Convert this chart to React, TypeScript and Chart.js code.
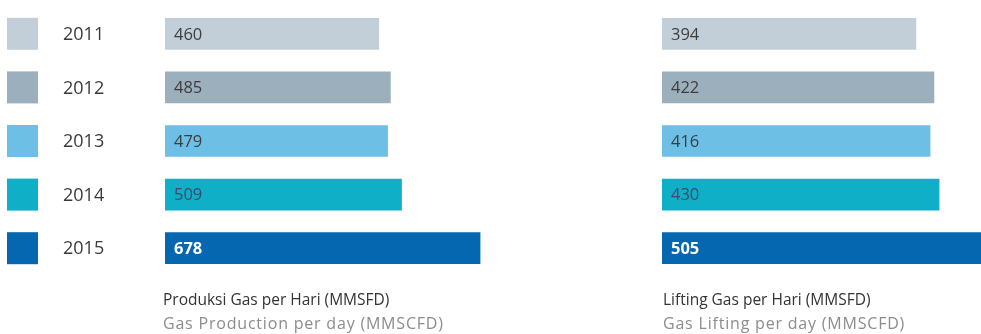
import React, { useEffect, useRef } from "react";
import { Chart, registerables } from "chart.js";

Chart.register(...registerables);

const years = ["2011", "2012", "2013", "2014", "2015"];
const productionValues = [460, 485, 479, 509, 678];
const liftingValues = [394, 422, 416, 430, 505];
const barColors = ["#c3cfd8", "#9cafbc", "#6dbfe6", "#10afc8", "#0467b0"];
const valueLabelColors = ["#3d3d3d", "#3d3d3d", "#3d3d3d", "#3d4a66", "#ffffff"];
const productionTitle = ["Produksi Gas per Hari (MMSFD)", "Gas Production per day (MMSCFD)"];
const liftingTitle = ["Lifting Gas per Hari (MMSFD)", "Gas Lifting per day (MMSCFD)"];

const FONT = "'Open Sans', 'Noto Sans', sans-serif";

type PanelProps = {
  values: number[];
  left: number;
  width: number;
  padLeft: number;
  max: number;
  showLegend: boolean;
  title: string[];
  titleLeft: number;
};

function BarPanel({ values, left, width, padLeft, max, showLegend, title, titleLeft }: PanelProps) {
  const ref = useRef<HTMLCanvasElement | null>(null);

  useEffect(() => {
    if (!ref.current) return;
    const valueLabels = {
      id: "valueLabels",
      afterDatasetsDraw(chart: any) {
        const ctx = chart.ctx;
        const meta = chart.getDatasetMeta(0);
        ctx.save();
        ctx.textBaseline = "middle";
        ctx.textAlign = "left";
        meta.data.forEach((bar: any, i: number) => {
          const last = i === values.length - 1;
          ctx.font = `${last ? "bold " : ""}16.5px ${FONT}`;
          ctx.fillStyle = valueLabelColors[i];
          ctx.fillText(String(values[i]), bar.base + 9, bar.y + 1);
        });
        ctx.restore();
      },
    };
    const yearLegend = {
      id: "yearLegend",
      afterDatasetsDraw(chart: any) {
        if (!showLegend) return;
        const ctx = chart.ctx;
        const yScale = chart.scales.y;
        ctx.save();
        years.forEach((yr, i) => {
          const cy = yScale.getPixelForValue(i);
          ctx.fillStyle = barColors[i];
          ctx.fillRect(7, cy - 16, 31, 32);
          ctx.font = `18px ${FONT}`;
          ctx.fillStyle = "#3a3a3a";
          ctx.textBaseline = "middle";
          ctx.textAlign = "left";
          ctx.fillText(yr, 63, cy + 1);
        });
        ctx.restore();
      },
    };
    const chart = new Chart(ref.current, {
      type: "bar",
      data: {
        labels: years,
        datasets: [
          {
            data: values,
            backgroundColor: barColors,
            borderWidth: 0,
            barThickness: 31,
          },
        ],
      },
      options: {
        indexAxis: "y",
        animation: false,
        responsive: false,
        layout: { padding: { left: padLeft, right: 0, top: 7, bottom: 59 } },
        plugins: {
          legend: { display: false },
          tooltip: { enabled: false },
          title: { display: false },
        },
        scales: {
          x: { display: false, min: 0, max: max },
          y: { display: false },
        },
      },
      plugins: [valueLabels, yearLegend],
    });
    return () => chart.destroy();
  }, []);

  return (
    <>
      <canvas
        ref={ref}
        width={width}
        height={334}
        style={{ position: "absolute", left, top: 0, width, height: 334 }}
      />
      <div
        style={{
          position: "absolute",
          left: titleLeft,
          top: 287,
          fontFamily: FONT,
          lineHeight: "24px",
          whiteSpace: "nowrap",
        }}
      >
        <div style={{ color: "#333333", fontSize: 15.5 }}>{title[0]}</div>
        <div style={{ color: "#8c8c8c", fontSize: 16, letterSpacing: "0.8px" }}>{title[1]}</div>
      </div>
    </>
  );
}

export default function App() {
  return (
    <div
      style={{
        position: "fixed",
        left: 0,
        top: 0,
        width: 981,
        height: 334,
        background: "#ffffff",
        overflow: "hidden",
      }}
    >
      <BarPanel
        values={productionValues}
        left={0}
        width={560}
        padLeft={165}
        max={850}
        showLegend={true}
        title={productionTitle}
        titleLeft={163}
      />
      <BarPanel
        values={liftingValues}
        left={560}
        width={421}
        padLeft={102}
        max={495}
        showLegend={false}
        title={liftingTitle}
        titleLeft={663}
      />
    </div>
  );
}
